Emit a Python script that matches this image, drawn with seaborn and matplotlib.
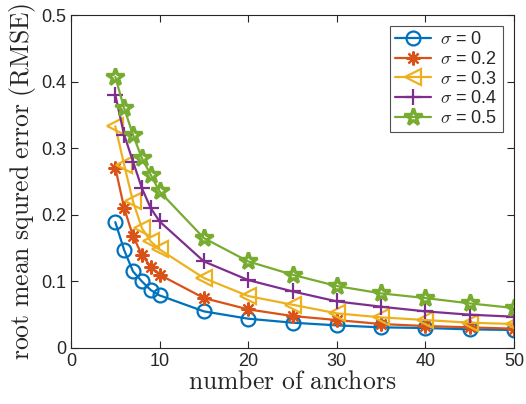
import matplotlib
matplotlib.use("Agg")
import matplotlib.pyplot as plt
import seaborn as sns
import numpy as np
import pandas as pd

anchors = [5, 6, 7, 8, 9, 10, 15, 20, 25, 30, 35, 40, 45, 50]
rmse_s0 = [0.189, 0.147, 0.115, 0.100, 0.087, 0.079, 0.055, 0.044, 0.038, 0.034, 0.031, 0.030, 0.028, 0.027]
rmse_s02 = [0.271, 0.210, 0.168, 0.140, 0.122, 0.110, 0.075, 0.058, 0.048, 0.042, 0.036, 0.033, 0.031, 0.029]
rmse_s03 = [0.333, 0.275, 0.220, 0.180, 0.160, 0.148, 0.105, 0.078, 0.065, 0.052, 0.046, 0.042, 0.038, 0.036]
rmse_s04 = [0.380, 0.320, 0.280, 0.240, 0.210, 0.190, 0.130, 0.102, 0.085, 0.070, 0.062, 0.055, 0.050, 0.047]
rmse_s05 = [0.407, 0.360, 0.320, 0.285, 0.260, 0.235, 0.165, 0.130, 0.110, 0.093, 0.082, 0.075, 0.067, 0.060]
sigma_labels = ["0", "0.2", "0.3", "0.4", "0.5"]

series = [rmse_s0, rmse_s02, rmse_s03, rmse_s04, rmse_s05]
colors = ["#0072BD", "#D95319", "#EDB120", "#7E2F8E", "#77AC30"]
markers = ["o", (8, 2, 0), "<", "+", "*"]
msizes = [10, 10, 11, 12, 13]
mwidths = [1.6, 1.6, 1.6, 1.6, 2.4]

sns.set_theme(style="ticks")
plt.rcParams["font.family"] = ["Liberation Sans", "DejaVu Sans"]
plt.rcParams["mathtext.fontset"] = "cm"

fig = plt.figure(figsize=(5.26, 4.04), dpi=100)
ax = fig.add_axes([71 / 526, 1 - 348 / 404, (514 - 71) / 526, (348 - 15) / 404])

for vals, lab, c, m, ms, mw in zip(series, sigma_labels, colors, markers, msizes, mwidths):
    df = pd.DataFrame({"anchors": anchors, "rmse": vals})
    sns.lineplot(data=df, x="anchors", y="rmse", ax=ax, color=c, lw=1.6,
                 marker=m, ms=ms, mfc="none", mec=c, mew=mw,
                 label=r"$\sigma$ = " + lab)

ax.set_xlim(0, 50)
ax.set_ylim(0, 0.5)
ax.set_xticks([0, 10, 20, 30, 40, 50])
ax.set_yticks([0, 0.1, 0.2, 0.3, 0.4, 0.5])
ax.set_yticklabels(["0", "0.1", "0.2", "0.3", "0.4", "0.5"])
ax.tick_params(direction="in", length=5, width=0.8, labelsize=13, colors="#262626",
               top=True, right=True)
for s in ax.spines.values():
    s.set_linewidth(0.8)
    s.set_color("#262626")

ax.set_xlabel(r"$\mathrm{number\ of\ anchors}$", fontsize=18.5, labelpad=0, color="#262626")
ax.set_ylabel(r"$\mathrm{root\ mean\ squred\ error\ (RMSE)}$", fontsize=18.5, labelpad=2,
              color="#262626")

leg = ax.legend(loc="upper right", fontsize=13, frameon=True, fancybox=False,
                edgecolor="#262626", borderaxespad=0.6, handlelength=2.0,
                labelspacing=0.15, borderpad=0.3, handletextpad=0.5)
leg.get_frame().set_linewidth(0.8)

fig.savefig("out.png", dpi=100)
